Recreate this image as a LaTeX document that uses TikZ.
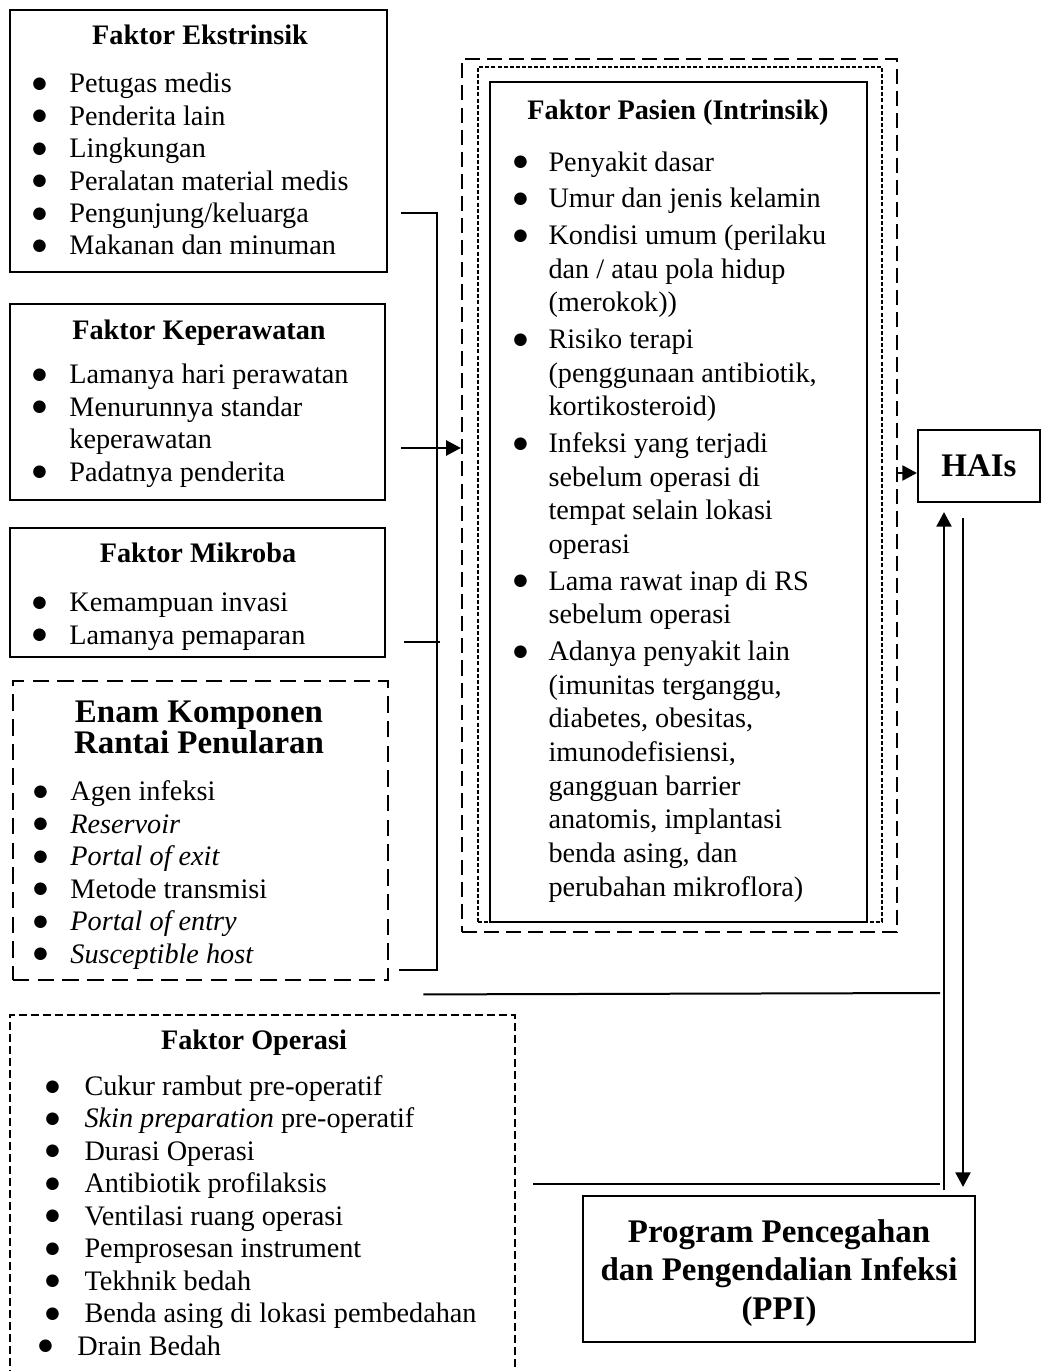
\documentclass[tikz,border=0pt]{standalone}
\usepackage{fontspec}
\setmainfont{Liberation Serif}
\newfontfamily\dotfont{DejaVu Sans}
\usetikzlibrary{arrows.meta, positioning, fit, calc}

\newlength{\bulletgap}
\setlength{\bulletgap}{15.7pt}
\newcommand{\itm}{\makebox[\bulletgap][l]{\raisebox{1.8pt}{\dotfont\fontsize{7}{7}\selectfont ●}}}
\newcommand{\cnt}{\hspace*{\bulletgap}}

\tikzset{
    factor box/.style={
        rectangle,
        draw=black,
        line width=0.9pt,
        inner sep=0pt
    },
    chain box/.style={
        factor box,
        line width=1.2pt,
        dash pattern=on 7pt off 3.5pt
    },
    operasi box/.style={
        factor box,
        line width=1pt,
        dash pattern=on 3.4pt off 1.7pt
    },
    pasien outer/.style={
        factor box,
        line width=1pt,
        dash pattern=on 6.4pt off 3pt
    },
    pasien dotted/.style={
        factor box,
        line width=0.8pt,
        dash pattern=on 1.7pt off 0.9pt
    },
    box title/.style={
        font=\fontsize{12}{13.8}\selectfont\bfseries,
        anchor=base,
        inner sep=0pt
    },
    big title/.style={
        font=\fontsize{14}{13}\selectfont\bfseries,
        align=center,
        anchor=base,
        inner sep=0pt
    },
    % lists are placed by the baseline of their last line
    item list/.style={
        font=\fontsize{12}{13.8}\selectfont,
        align=left,
        anchor=base west,
        inner sep=0pt
    },
    link/.style={
        line width=0.85pt,
        draw=black
    },
    arrow/.style={
        link,
        -{Triangle[length=6.2pt, width=6.4pt]}
    }
}

\begin{document}
\begin{tikzpicture}[x=0.425pt, y=-0.425pt]

\useasboundingbox (0,0) rectangle (1042,1371);

% === LEFT COLUMN ===

% Faktor Ekstrinsik
\node[factor box, fit={(10,10) (387,272)}] (ekstr) {};
\node[box title] (ekstrTitle) at (200,45) {Faktor Ekstrinsik};
\node[item list] (ekstrList) at (32,255) {
    \itm Petugas medis\\
    \itm Penderita lain\\
    \itm Lingkungan\\
    \itm Peralatan material medis\\
    \itm Pengunjung/keluarga\\
    \itm Makanan dan minuman
};

% Faktor Keperawatan
\node[factor box, fit={(10,304) (385,500)}] (kep) {};
\node[box title] (kepTitle) at (199,339) {Faktor Keperawatan};
\node[item list] (kepList) at (32,481) {
    \itm Lamanya hari perawatan\\
    \itm Menurunnya standar\\
    \cnt keperawatan\\
    \itm Padatnya penderita
};

% Faktor Mikroba
\node[factor box, fit={(10,528) (385,657)}] (mikroba) {};
\node[box title] (mikTitle) at (198,562) {Faktor Mikroba};
\node[item list] (mikList) at (32,644) {
    \itm Kemampuan invasi\\
    \itm Lamanya pemaparan
};

% Enam Komponen Rantai Penularan
\node[chain box, fit={(13,681) (388,980)}] (enam) {};
\node[big title] (enamTitle) at (199,753) {Enam Komponen\\Rantai Penularan};
\node[item list] (enamList) at (33,963) {
    \itm Agen infeksi\\
    \itm \textit{Reservoir}\\
    \itm \textit{Portal of exit}\\
    \itm Metode transmisi\\
    \itm \textit{Portal of entry}\\
    \itm \textit{Susceptible host}
};

% Faktor Operasi (runs off the page)
\node[operasi box, fit={(10,1015) (515,1390)}] (operasi) {};
\node[box title] (operasiTitle) at (254,1049) {Faktor Operasi};
\node[item list, execute at begin node={\setlength{\bulletgap}{16.6pt}}] (operasiList) at (45,1355) {
    \itm Cukur rambut pre-operatif\\
    \itm \textit{Skin preparation} pre-operatif\\
    \itm Durasi Operasi\\
    \itm Antibiotik profilaksis\\
    \itm Ventilasi ruang operasi\\
    \itm Pemprosesan instrument\\
    \itm Tekhnik bedah\\
    \itm Benda asing di lokasi pembedahan\\
    \hspace*{-3pt}\itm Drain Bedah
};

% === FAKTOR PASIEN ===
\node[pasien outer, fit={(462,59) (897,932)}] (pasienOuter) {};
\node[pasien dotted, fit={(478,67) (882,922)}] (pasienMid) {};
\node[factor box, fit={(490,82) (867,922)}] (pasien) {};
\node[box title] (pasienTitle) at (678,120) {Faktor Pasien (Intrinsik)};
\node[item list, font=\fontsize{12}{14.3}\selectfont,
      execute at begin node={\setlength{\bulletgap}{14.9pt}}] (pasienList) at (513,896) {
    \itm Penyakit dasar\\[1.3pt]
    \itm Umur dan jenis kelamin\\[1.3pt]
    \itm Kondisi umum (perilaku\\
    \cnt dan / atau pola hidup\\
    \cnt (merokok))\\[1.3pt]
    \itm Risiko terapi\\
    \cnt (penggunaan antibiotik,\\
    \cnt kortikosteroid)\\[1.3pt]
    \itm Infeksi yang terjadi\\
    \cnt sebelum operasi di\\
    \cnt tempat selain lokasi\\
    \cnt operasi\\[1.3pt]
    \itm Lama rawat inap di RS\\
    \cnt sebelum operasi\\[1.3pt]
    \itm Adanya penyakit lain\\
    \cnt (imunitas terganggu,\\
    \cnt diabetes, obesitas,\\
    \cnt imunodefisiensi,\\
    \cnt gangguan barrier\\
    \cnt anatomis, implantasi\\
    \cnt benda asing, dan\\
    \cnt perubahan mikroflora)
};

% === RIGHT COLUMN ===

% HAIs
\node[factor box, fit={(918,430) (1040,502)}] (hais) {};
\node[font=\fontsize{14}{16}\selectfont\bfseries] (haisLabel) at (hais.center) {HAIs};

% Program PPI
\node[factor box, fit={(583,1196) (975,1342)}] (ppi) {};
\node[big title, anchor=center, font=\fontsize{14}{16.2}\selectfont\bfseries] (ppiLabel)
    at ($(ppi.center)+(0,4)$) {
    Program Pencegahan\\
    dan Pengendalian Infeksi\\
    (PPI)
};

% === CONNECTORS ===
\coordinate (busTop) at (437,213);
\coordinate (busBot) at (437,970);
\coordinate (kepIn) at (437,448);
\coordinate (busMik) at (440,642);
\coordinate (midIn) at (940,993);
\coordinate (opIn) at (940,1184);
\coordinate (upFoot) at (944,1190);
\coordinate (downTop) at (963,518);
\coordinate (haisIn) at ($(hais.west)+(0,7)$);

% bracket of the left boxes
\draw[link] ($(ekstr.east |- busTop)+(13,0)$) -- (busTop) -- (busBot)
    -- ($(enam.east |- busBot)+(10,0)$);
\draw[link] ($(mikroba.east |- busMik)+(18,0)$) -- (busMik);
\draw[arrow] ($(kep.east |- kepIn)+(15,0)$) -- (pasienOuter.west |- kepIn);

% Faktor Pasien -> HAIs
\draw[arrow] (pasienOuter.east |- haisIn) -- (haisIn);

% lower feeds into the rising line
\draw[link] ($(enam.south east)+(34,13)$) -- (midIn);
\draw[link] ($(operasi.east |- opIn)+(17,0)$) -- (opIn);

% PPI <-> HAIs
\draw[arrow] (upFoot) -- ($(hais.south -| upFoot)+(0,9)$);
\draw[arrow] (downTop) -- ($(ppi.north -| downTop)+(0,-8)$);

\end{tikzpicture}
\end{document}
